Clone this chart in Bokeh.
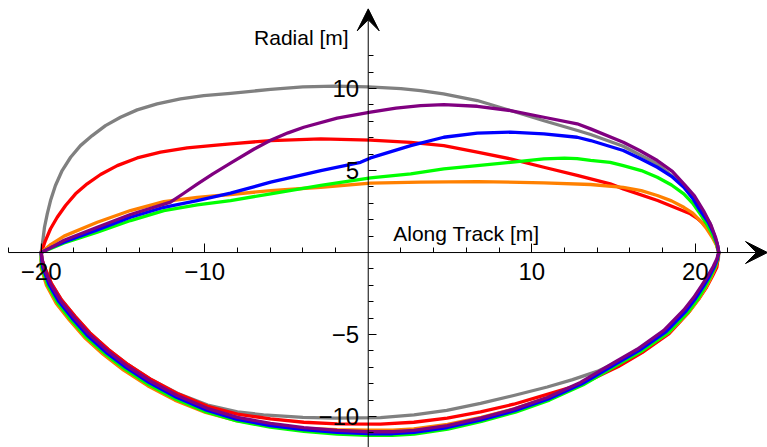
from bokeh.plotting import figure
from bokeh.models import LinearAxis, FixedTicker, Arrow, VeeHead, Label, Range1d
from bokeh.embed import file_html
from bokeh.resources import INLINE

# ---------------- data ----------------
# upper arcs, left to right
gray_up_x = [-20, -19.9, -19.8, -19.63, -19.43, -19.13, -18.72, -18.2, -17.6, -16.88, -16.07, -15.15, -14.13, -12.91, -11.48, -10.06, -8.42, -5.97, -4.0, -2.0, 0.0, 2.0, 3.2, 4.6, 6.67, 8.7, 10.7, 12.8, 13.6, 15.6, 17.68, 19.3, 20.4, 20.9, 21.17, 21.35, 21.44]
gray_up_y = [0, 0.73, 1.54, 2.36, 3.17, 4.09, 5.0, 5.81, 6.52, 7.13, 7.74, 8.25, 8.7, 9.07, 9.37, 9.57, 9.71, 9.95, 10.1, 10.15, 10.1, 10.0, 9.88, 9.68, 9.27, 8.66, 8.05, 7.44, 7.2, 6.48, 5.4, 4.08, 2.56, 1.8, 1.0, 0.5, 0]

red_up_x = [-20, -19.74, -19.43, -19.02, -18.51, -17.9, -17.19, -16.37, -15.35, -14.13, -12.7, -11.07, -9.44, -8.42, -5.97, -2.9, 0.14, 2.6, 4.62, 6.67, 8.7, 10.74, 12.78, 14.8, 15.6, 17.7, 19.7, 20.1, 20.5, 20.85, 21.1, 21.3, 21.44]
red_up_y = [0, 0.73, 1.45, 2.15, 2.87, 3.58, 4.19, 4.76, 5.3, 5.77, 6.12, 6.38, 6.54, 6.63, 6.83, 6.93, 6.85, 6.72, 6.52, 6.12, 5.71, 5.2, 4.7, 4.19, 3.88, 3.17, 2.36, 2.1, 1.75, 1.35, 0.93, 0.5, 0]

orange_up_x = [-20, -19.4, -18.6, -16.57, -14.54, -12.5, -10.46, -8.42, -5.97, -2.9, 0.14, 3.2, 6.67, 10.74, 13.6, 15.6, 16.7, 17.68, 18.55, 19.3, 19.85, 20.3, 20.7, 21.04, 21.3, 21.44]
orange_up_y = [0, 0.5, 1.0, 1.85, 2.56, 3.11, 3.37, 3.54, 3.78, 3.98, 4.23, 4.29, 4.33, 4.25, 4.15, 3.98, 3.78, 3.48, 3.15, 2.76, 2.4, 1.95, 1.45, 0.93, 0.45, 0]

green_up_x = [-20, -18.6, -16.57, -14.54, -12.5, -10.46, -8.42, -5.97, -2.9, 0.14, 2.6, 4.62, 6.67, 8.7, 10.74, 12.0, 12.78, 13.6, 14.8, 15.6, 16.7, 17.68, 18.55, 19.3, 19.85, 20.3, 20.7, 21.04, 21.3, 21.44]
green_up_y = [0, 0.58, 1.24, 1.95, 2.56, 2.9, 3.17, 3.58, 4.09, 4.55, 4.8, 5.1, 5.3, 5.5, 5.71, 5.76, 5.73, 5.62, 5.5, 5.3, 5.0, 4.59, 4.12, 3.58, 3.0, 2.36, 1.75, 1.14, 0.55, 0]

blue_up_x = [-20, -19.4, -18.6, -16.57, -14.54, -12.5, -10.46, -8.42, -5.97, -2.9, -0.47, 0.14, 2.6, 4.62, 6.67, 8.7, 10.74, 12.78, 13.6, 15.6, 16.6, 17.68, 18.55, 19.3, 19.85, 20.3, 20.8, 21.14, 21.35, 21.44]
blue_up_y = [0, 0.3, 0.65, 1.38, 2.15, 2.76, 3.17, 3.62, 4.29, 5.0, 5.5, 5.77, 6.52, 7.03, 7.28, 7.34, 7.24, 7.03, 6.83, 6.22, 5.75, 5.2, 4.65, 3.98, 3.3, 2.56, 1.85, 1.14, 0.5, 0]

purple_up_x = [-20, -19.4, -18.6, -16.57, -14.54, -12.09, -11.3, -10.46, -9.5, -8.42, -7.0, -5.97, -4.9, -3.94, -1.9, 0.14, 1.7, 3.2, 4.62, 6.67, 8.7, 10.74, 12.78, 13.6, 15.6, 16.6, 17.68, 18.6, 19.3, 19.95, 20.5, 20.95, 21.24, 21.38, 21.44]
purple_up_y = [0, 0.3, 0.75, 1.54, 2.32, 3.07, 3.6, 4.17, 4.8, 5.45, 6.3, 6.85, 7.3, 7.64, 8.2, 8.56, 8.8, 8.96, 9.02, 8.92, 8.66, 8.25, 7.85, 7.54, 6.73, 6.22, 5.61, 4.95, 4.19, 3.45, 2.56, 1.7, 0.93, 0.4, 0]

# lower arcs, left to right
gray_lo_x = [-20, -19.95, -19.8, -19.38, -18.76, -17.93, -17.02, -15.89, -14.68, -13.25, -11.64, -9.82, -8.0, -6.4, -4.0, -2.0, 0.75, 2.8, 4.8, 6.87, 8.9, 10.95, 12.5, 14.0, 15.5, 16.9, 18.3, 19.6, 20.2, 20.7, 21.05, 21.3, 21.42, 21.44]
gray_lo_y = [0, -0.42, -0.88, -1.88, -2.89, -3.89, -4.9, -5.91, -6.84, -7.76, -8.6, -9.3, -9.72, -9.9, -10.05, -10.1, -10.07, -9.9, -9.62, -9.2, -8.72, -8.2, -7.75, -7.25, -6.55, -5.75, -4.75, -3.45, -2.7, -1.9, -1.3, -0.8, -0.35, 0]

red_lo_x = [-20, -19.95, -19.8, -19.38, -18.76, -17.93, -17.02, -15.89, -14.68, -13.25, -11.64, -9.82, -8.0, -5.98, -3.94, -1.9, 0.75, 2.79, 4.83, 6.87, 8.9, 10.95, 13.1, 15.3, 16.75, 18.4, 19.6, 20.2, 20.7, 21.05, 21.32, 21.44]
red_lo_y = [0, -0.42, -0.88, -1.88, -2.89, -3.89, -4.9, -5.91, -6.84, -7.76, -8.62, -9.38, -9.85, -10.15, -10.35, -10.45, -10.47, -10.35, -10.1, -9.72, -9.25, -8.65, -8.0, -6.95, -6.1, -4.95, -3.65, -2.85, -2.1, -1.45, -0.9, 0]

orange_lo_x = [-20, -20.01, -20.0, -19.68, -19.08, -18.27, -17.35, -16.2, -14.96, -13.49, -11.83, -9.95, -8.06, -6.0, -3.94, -1.9, 0.0, 1.5, 2.79, 4.85, 6.92, 8.98, 11.06, 13.15, 15.25, 16.75, 18.42, 19.65, 20.2, 20.7, 21.0, 21.25, 21.38, 21.44]
orange_lo_y = [0, -0.45, -0.94, -2.0, -3.1, -4.13, -5.18, -6.22, -7.17, -8.12, -9.0, -9.75, -10.25, -10.55, -10.72, -10.8, -10.83, -10.83, -10.75, -10.48, -10.05, -9.52, -8.82, -7.92, -6.78, -5.97, -4.85, -3.58, -2.85, -2.05, -1.45, -0.87, -0.4, 0]

green_lo_x = [-20, -20.0, -19.96, -19.6, -19.01, -18.2, -17.28, -16.13, -14.89, -13.43, -11.78, -9.91, -8.04, -6.0, -3.94, -1.9, 0.0, 1.5, 2.81, 4.87, 6.93, 9.0, 11.08, 13.15, 15.22, 16.7, 18.35, 19.58, 20.15, 20.62, 20.95, 21.22, 21.37, 21.44]
green_lo_y = [0, -0.44, -0.93, -1.98, -3.05, -4.08, -5.12, -6.15, -7.1, -8.05, -8.93, -9.72, -10.27, -10.65, -10.9, -11.07, -11.15, -11.15, -11.07, -10.77, -10.3, -9.73, -9.0, -8.07, -6.87, -6.03, -4.88, -3.6, -2.85, -2.06, -1.45, -0.87, -0.4, 0]

blue_lo_x = [-20, -19.97, -19.9, -19.52, -18.92, -18.1, -17.19, -16.05, -14.82, -13.37, -11.73, -9.88, -8.02, -5.99, -3.94, -1.9, 0.0, 1.5, 2.8, 4.85, 6.9, 8.95, 11.02, 13.07, 15.13, 16.58, 18.22, 19.45, 20.02, 20.52, 20.88, 21.17, 21.35, 21.44]
blue_lo_y = [0, -0.43, -0.92, -1.95, -2.99, -4.01, -5.04, -6.07, -7.01, -7.95, -8.83, -9.62, -10.17, -10.55, -10.8, -10.97, -11.05, -11.05, -10.97, -10.67, -10.21, -9.65, -8.93, -8.0, -6.8, -5.97, -4.82, -3.55, -2.8, -2.03, -1.42, -0.86, -0.4, 0]

purple_lo_x = [-20, -19.95, -19.84, -19.43, -18.82, -18.0, -17.09, -15.96, -14.74, -13.3, -11.68, -9.85, -8.0, -5.98, -3.94, -1.9, 0.0, 1.5, 2.79, 4.83, 6.87, 8.9, 10.95, 12.98, 15.02, 16.45, 18.08, 19.3, 19.9, 20.4, 20.8, 21.1, 21.32, 21.44]
purple_lo_y = [0, -0.42, -0.9, -1.91, -2.93, -3.94, -4.96, -5.98, -6.92, -7.85, -8.72, -9.5, -10.05, -10.42, -10.68, -10.85, -10.93, -10.93, -10.85, -10.55, -10.1, -9.55, -8.84, -7.92, -6.72, -5.9, -4.75, -3.5, -2.75, -2.0, -1.38, -0.85, -0.4, 0]

x_major_ticks = [-20, -10, 10, 20]
x_minor_ticks = [-22, -18, -16, -14, -12, -8, -6, -4, -2, 2, 4, 6, 8, 12, 14, 16, 18, 22]
y_major_ticks = [-10, -5, 5, 10]
y_minor_ticks = [-11, -9, -8, -7, -6, -4, -3, -2, -1, 1, 2, 3, 4, 6, 7, 8, 9, 11, 12]
x_tick_labels = {-20: "\u221220", -10: "\u221210", 10: "10", 20: "20"}
y_tick_labels = {-10: "\u221210", -5: "\u22125", 5: "5", 10: "10"}

series = [
    ("#808080", gray_up_x, gray_up_y, gray_lo_x, gray_lo_y),
    ("#ff0000", red_up_x, red_up_y, red_lo_x, red_lo_y),
    ("#ff8000", orange_up_x, orange_up_y, orange_lo_x, orange_lo_y),
    ("#00ff00", green_up_x, green_up_y, green_lo_x, green_lo_y),
    ("#0000ff", blue_up_x, blue_up_y, blue_lo_x, blue_lo_y),
    ("#800080", purple_up_x, purple_up_y, purple_lo_x, purple_lo_y),
]

# ---------------- figure ----------------
FONT = "Liberation Sans"
p = figure(width=767, height=447,
           x_range=Range1d(-22.49, 24.42), y_range=Range1d(-11.89, 15.37),
           output_backend="svg", toolbar_location=None,
           x_axis_location=None, y_axis_location=None,
           min_border=0, outline_line_color=None)
p.xgrid.visible = False
p.ygrid.visible = False
p.background_fill_color = "white"
p.border_fill_color = "white"

for color, ux, uy, lx, ly in series:
    xs = list(ux) + list(reversed(lx))
    ys = list(uy) + list(reversed(ly))
    p.line(xs, ys, line_color=color, line_width=3.3, line_join="round", line_cap="round")

xaxis = LinearAxis(fixed_location=0,
                   ticker=FixedTicker(ticks=x_major_ticks, minor_ticks=x_minor_ticks),
                   major_label_overrides=x_tick_labels,
                   axis_line_color=None,
                   major_tick_in=9, major_tick_out=0,
                   minor_tick_in=5, minor_tick_out=0,
                   major_tick_line_color="black", minor_tick_line_color="black",
                   major_label_standoff=10,
                   major_label_text_font=FONT,
                   major_label_text_font_size="24px",
                   major_label_text_color="black")
p.add_layout(xaxis, "below")

yaxis = LinearAxis(fixed_location=0,
                   ticker=FixedTicker(ticks=y_major_ticks, minor_ticks=y_minor_ticks),
                   major_label_overrides=y_tick_labels,
                   axis_line_color=None,
                   major_tick_in=8, major_tick_out=0,
                   minor_tick_in=5, minor_tick_out=0,
                   major_tick_line_color="black", minor_tick_line_color="black",
                   major_label_standoff=9,
                   major_label_text_font=FONT,
                   major_label_text_font_size="24px",
                   major_label_text_color="black")
p.add_layout(yaxis, "left")

p.add_layout(Arrow(end=VeeHead(size=22, fill_color="black", line_color="black"),
                   x_start=-22.0, y_start=0, x_end=24.42, y_end=0,
                   line_color="black", line_width=1))
p.add_layout(Arrow(end=VeeHead(size=22, fill_color="black", line_color="black"),
                   x_start=0, y_start=-11.89, x_end=0, y_end=14.86,
                   line_color="black", line_width=1))

p.add_layout(Label(x=-1.2, y=13.13, text="Radial [m]", text_align="right",
                   text_baseline="alphabetic", text_font=FONT,
                   text_font_size="21px", text_color="black"))
p.add_layout(Label(x=1.53, y=1.14, text="Along Track [m]", text_align="left",
                   text_baseline="alphabetic", text_font=FONT,
                   text_font_size="21px", text_color="black"))

open("out.html", "w").write(file_html(p, INLINE))
